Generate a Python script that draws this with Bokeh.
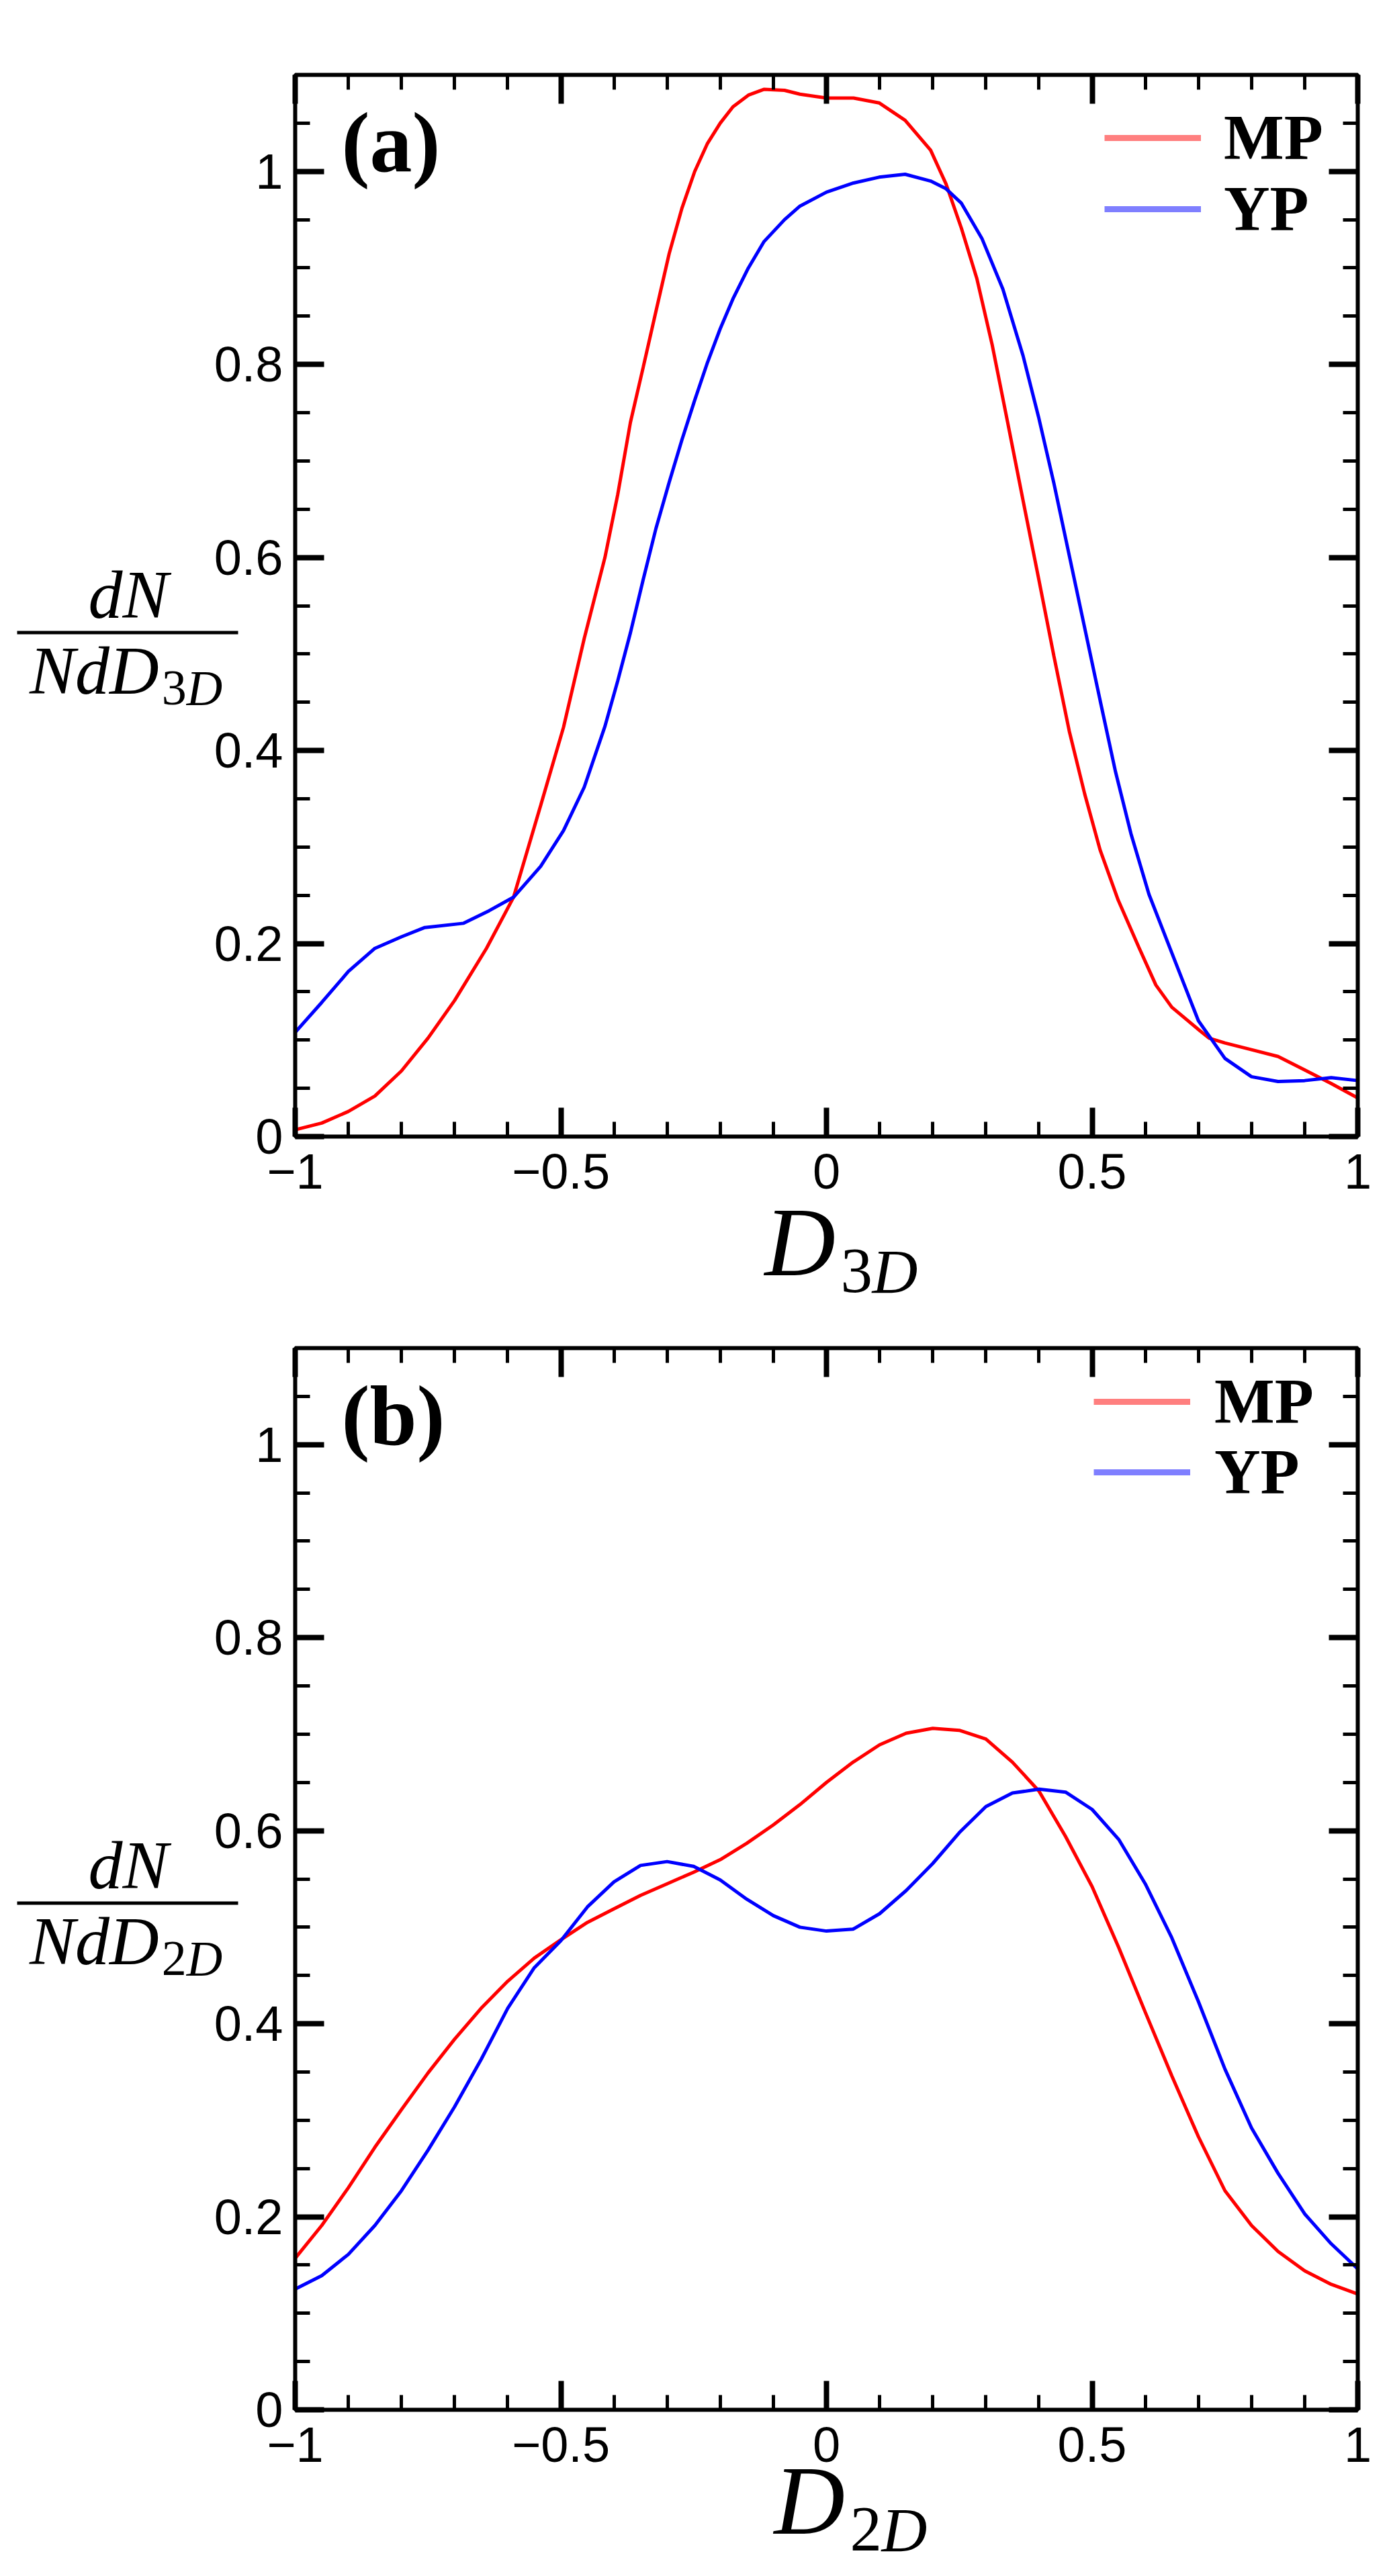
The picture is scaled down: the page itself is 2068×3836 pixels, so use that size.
from bokeh.plotting import figure
from bokeh.models import (FixedTicker, LinearAxis, Label, Legend, LegendItem,
                          BoxAnnotation, Range1d, CustomLabelingPolicy)
from bokeh.layouts import column
from bokeh.embed import file_html
from bokeh.resources import INLINE

# ---------------- data: panel (a) ----------------
xa_mp = [-1.00, -0.95, -0.90, -0.85, -0.80, -0.75, -0.70, -0.64, -0.589, -0.538,
         -0.495, -0.456, -0.417, -0.393, -0.369, -0.345, -0.321, -0.296, -0.272, -0.248,
         -0.224, -0.200, -0.176, -0.147, -0.118, -0.079, -0.050, 0.000, 0.051, 0.099,
         0.148, 0.196, 0.225, 0.254, 0.283, 0.312, 0.341, 0.370, 0.399, 0.428,
         0.457, 0.486, 0.515, 0.549, 0.588, 0.62, 0.65, 0.70, 0.72, 0.75,
         0.80, 0.85, 0.90, 0.95, 1.00]
ya_mp = [0.007, 0.014, 0.026, 0.042, 0.068, 0.102, 0.141, 0.195, 0.248, 0.343,
         0.424, 0.516, 0.600, 0.665, 0.740, 0.797, 0.855, 0.915, 0.962, 1.000,
         1.029, 1.050, 1.067, 1.079, 1.085, 1.084, 1.080, 1.076, 1.076, 1.071,
         1.053, 1.022, 0.987, 0.941, 0.889, 0.820, 0.740, 0.659, 0.579, 0.498,
         0.420, 0.355, 0.297, 0.245, 0.196, 0.157, 0.134, 0.111, 0.102, 0.097,
         0.090, 0.083, 0.069, 0.055, 0.040]

xa_yp = [-1.00, -0.95, -0.90, -0.85, -0.80, -0.756, -0.683, -0.635, -0.589, -0.538,
         -0.495, -0.456, -0.417, -0.393, -0.369, -0.345, -0.321, -0.296, -0.272, -0.248,
         -0.224, -0.200, -0.176, -0.147, -0.118, -0.079, -0.050, 0.000, 0.051, 0.099,
         0.148, 0.196, 0.225, 0.254, 0.293, 0.332, 0.370, 0.399, 0.428, 0.457,
         0.486, 0.515, 0.544, 0.573, 0.607, 0.646, 0.70, 0.75, 0.80, 0.85,
         0.90, 0.95, 1.00]
ya_yp = [0.108, 0.139, 0.171, 0.195, 0.207, 0.2166, 0.221, 0.234, 0.248, 0.280,
         0.317, 0.362, 0.425, 0.472, 0.522, 0.577, 0.630, 0.678, 0.722, 0.763,
         0.802, 0.837, 0.868, 0.900, 0.927, 0.950, 0.964, 0.9785, 0.988, 0.994,
         0.997, 0.990, 0.982, 0.967, 0.930, 0.878, 0.809, 0.746, 0.677, 0.602,
         0.527, 0.452, 0.378, 0.314, 0.251, 0.196, 0.120, 0.081, 0.062, 0.057,
         0.058, 0.061, 0.058]

# ---------------- data: panel (b) ----------------
xb = [-1.00, -0.95, -0.90, -0.85, -0.80, -0.75, -0.70, -0.65, -0.60, -0.55,
      -0.50, -0.45, -0.40, -0.35, -0.30, -0.25, -0.20, -0.15, -0.10, -0.05,
      0.00, 0.05, 0.10, 0.15, 0.20, 0.25, 0.30, 0.35, 0.40, 0.45,
      0.50, 0.55, 0.60, 0.65, 0.70, 0.75, 0.80, 0.85, 0.90, 0.95, 1.00]
yb_mp = [0.157, 0.191, 0.230, 0.272, 0.311, 0.349, 0.384, 0.416, 0.444, 0.468,
         0.487, 0.505, 0.519, 0.533, 0.545, 0.557, 0.570, 0.587, 0.606, 0.627,
         0.650, 0.671, 0.689, 0.701, 0.706, 0.704, 0.695, 0.671, 0.641, 0.594,
         0.542, 0.479, 0.412, 0.346, 0.283, 0.227, 0.191, 0.164, 0.144, 0.130, 0.120]
yb_yp = [0.125, 0.139, 0.161, 0.191, 0.227, 0.269, 0.314, 0.363, 0.416, 0.458,
         0.486, 0.521, 0.547, 0.564, 0.568, 0.563, 0.549, 0.529, 0.512, 0.500,
         0.496, 0.498, 0.514, 0.538, 0.566, 0.598, 0.625, 0.639, 0.643, 0.640,
         0.622, 0.591, 0.545, 0.489, 0.423, 0.353, 0.292, 0.245, 0.203, 0.172, 0.146]

# ---------------- ticks ----------------
x_lim = [-1.0, 1.0]
y_lim = [0.0, 1.1]
x_ticks = [-1.0, -0.5, 0.0, 0.5, 1.0]
x_tick_labels = ["\u22121", "\u22120.5", "0", "0.5", "1"]
x_minor = [-0.9, -0.8, -0.7, -0.6, -0.4, -0.3, -0.2, -0.1,
           0.1, 0.2, 0.3, 0.4, 0.6, 0.7, 0.8, 0.9]
y_ticks = [0.0, 0.2, 0.4, 0.6, 0.8, 1.0]
y_tick_labels = ["0", "0.2", "0.4", "0.6", "0.8", "1"]
y_minor = [0.05, 0.1, 0.15, 0.25, 0.3, 0.35, 0.45, 0.5, 0.55,
           0.65, 0.7, 0.75, 0.85, 0.9, 0.95, 1.05]

series_names = ["MP", "YP"]
series_colors = ["#ff0000", "#0000ff"]

# ---------------- layout constants (pixels) ----------------
W = 2052            # canvas width
FL, FW, FH = 439, 1582, 1581   # plot box left offset, width, height
SERIF = "Liberation Serif"
SANS = "Liberation Sans"
MID = 0.3375        # em distance from baseline to the text's middle


def make_panel(xm, ym, xy, yy, tag, sub, top, bottom, leg_x, leg_mp_y, leg_yp_y,
               leg_standoff, frac_dy, xlab_dx, xlab_dy):
    H = top + FH + bottom
    xs = FW / (x_lim[1] - x_lim[0])
    ys = FH / (y_lim[1] - y_lim[0])
    x_range = Range1d(x_lim[0] - FL / xs, x_lim[1] + (W - FL - FW) / xs)
    y_range = Range1d(y_lim[0] - bottom / ys, y_lim[1] + top / ys)
    p = figure(frame_width=W, frame_height=H, min_border=0,
               x_range=x_range, y_range=y_range,
               x_axis_location=None, y_axis_location=None,
               output_backend="svg", toolbar_location=None)
    p.grid.visible = False
    p.background_fill_color = "white"
    p.border_fill_color = "white"
    p.outline_line_color = None

    # screen helpers: offsets measured from the plot box's lower-left corner
    def sx(dx):
        return FL + dx

    def sy(dy):
        return bottom + dy

    def add_label(text, dx, base, size, style="italic", align="left", font=SERIF):
        # 'base' is the wanted baseline height; text is anchored on its middle
        p.add_layout(Label(x=sx(dx), y=sy(base + MID * size), x_units="screen",
                           y_units="screen", text=text, text_font=font,
                           text_font_style=style, text_font_size=f"{size}px",
                           text_align=align, text_baseline="middle",
                           text_color="black"))

    specs = [("below", y_lim[0], x_ticks, x_minor, x_tick_labels, True),
             ("above", y_lim[1], x_ticks, x_minor, x_tick_labels, False),
             ("left", x_lim[0], y_ticks, y_minor, y_tick_labels, True),
             ("right", x_lim[1], y_ticks, y_minor, y_tick_labels, False)]
    for loc, fixed, ticks, minor, labels, show in specs:
        ax = LinearAxis(ticker=FixedTicker(ticks=ticks, minor_ticks=minor),
                        fixed_location=fixed)
        ax.axis_line_color = None
        ax.major_tick_in = 43
        ax.major_tick_out = 0
        ax.minor_tick_in = 22
        ax.minor_tick_out = 0
        ax.major_tick_line_width = 8
        ax.minor_tick_line_width = 5
        ax.major_tick_line_color = "black"
        ax.minor_tick_line_color = "black"
        ax.major_label_overrides = {t: s for t, s in zip(ticks, labels)}
        ax.major_label_text_font = SANS
        ax.major_label_text_font_size = "74px"
        ax.major_label_text_color = "black"
        ax.major_label_standoff = 26 if loc == "below" else 18
        if not show:
            ax.major_label_policy = CustomLabelingPolicy(code="return []")
        p.add_layout(ax, loc)

    # plot box
    p.add_layout(BoxAnnotation(left=x_lim[0], right=x_lim[1], bottom=y_lim[0], top=y_lim[1],
                               fill_alpha=0, line_color="black", line_alpha=1.0,
                               line_width=6))

    p.line(x=xm, y=ym, line_color=series_colors[0], line_width=5)
    p.line(x=xy, y=yy, line_color=series_colors[1], line_width=5)
    nan = float("nan")
    lm = p.line(x=[nan], y=[nan], line_color=series_colors[0], line_alpha=0.5, line_width=9)
    ly = p.line(x=[nan], y=[nan], line_color=series_colors[1], line_alpha=0.5, line_width=9)

    item_h = 114
    for name, rend, cy in [(series_names[0], lm, leg_mp_y), (series_names[1], ly, leg_yp_y)]:
        lg = Legend(items=[LegendItem(label=name, renderers=[rend])],
                    location=(sx(leg_x), sy(cy) - item_h / 2), glyph_width=144,
                    glyph_height=item_h, label_height=item_h,
                    label_standoff=leg_standoff, spacing=0, padding=0, margin=0,
                    border_line_color=None, background_fill_alpha=0,
                    label_text_font=SERIF, label_text_font_style="bold",
                    label_text_font_size="95px", label_text_color="black")
        p.add_layout(lg)

    # panel tag
    add_label(tag, 69, 1437, 126, style="bold")

    # x axis label  D_{nD}
    add_label("D", 699 + xlab_dx, -207 + xlab_dy, 146)
    add_label(sub, 812 + xlab_dx, -232 + xlab_dy, 95, style="normal")
    add_label("D", 859 + xlab_dx, -232 + xlab_dy, 94)

    # y axis label  dN / (N dD_{nD})
    add_label("dN", -248.5, 773 + frac_dy, 102, align="center")
    p.add_layout(BoxAnnotation(left=sx(-414), right=sx(-85),
                               bottom=sy(748 + frac_dy), top=sy(753 + frac_dy),
                               left_units="screen", right_units="screen",
                               bottom_units="screen", top_units="screen",
                               fill_color="black", fill_alpha=1.0, line_color=None))
    add_label("NdD", -395.5, 660 + frac_dy, 102)
    add_label(sub, -198.8, 643 + frac_dy, 74, style="normal")
    add_label("D", -161.8, 643 + frac_dy, 74)
    return p


# legend rows: centre heights measured from the plot-box bottom
p1 = make_panel(xa_mp, ya_mp, xa_yp, ya_yp, "(a)", "3", 111, 262,
                1205, 1581 - 94, 1581 - 199.5, 34, 0, 0, 0)
p2 = make_panel(xb, yb_mp, xb, yb_yp, "(b)", "2", 53, 232,
                1189, 1581 - 80, 1581 - 185, 36, 4, 14, 22)

layout = column(p1, p2)
open("out.html", "w").write(file_html(layout, INLINE))
